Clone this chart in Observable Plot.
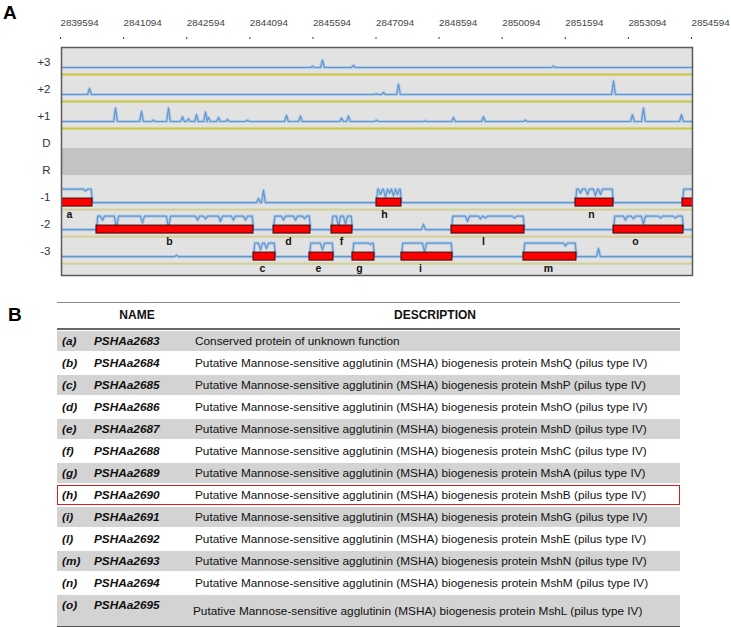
<!DOCTYPE html>
<html><head><meta charset="utf-8">
<script src="https://cdn.jsdelivr.net/npm/d3@7"></script>
<script src="https://cdn.jsdelivr.net/npm/@observablehq/plot@0.6"></script>
<style>
body{margin:0;background:#fff;font-family:"Liberation Sans",Arial,sans-serif;}
#wrap{position:relative;width:731px;height:627px;overflow:hidden;}
.panel{position:absolute;font-weight:bold;font-size:19px;line-height:19px;color:#000;}
#chart{position:absolute;left:0;top:0;}
#tbl{position:absolute;left:57px;top:302px;width:623px;font-size:11.8px;color:#111;}
#hdr{position:relative;height:25px;border-top:1px solid #8a8a8a;border-bottom:2px solid #666;}
#hdr span{position:absolute;top:5px;font-weight:bold;font-size:12px;transform:translateX(-50%);}
.row{position:relative;height:22px;}
.row .bg{position:absolute;left:0;right:0;top:1px;height:20px;}
.row .c{position:absolute;top:1px;line-height:20px;white-space:nowrap;}
.row .id{left:5px;font-weight:bold;font-style:italic;}
.row .nm{left:37px;font-weight:bold;font-style:italic;}
.row .ds{left:138px;}
.row.hl .bg{border:1px solid #e01b1b;box-sizing:border-box;}
.row.tall{height:32px;border-bottom:2px solid #555;}
.row.tall .bg{height:31px;}
.row.tall .ds{top:7px;left:136px;}
</style></head>
<body><div id="wrap">
<div class="panel" style="left:3px;top:3px">A</div>
<div class="panel" style="left:8px;top:305px">B</div>
<div id="chart"></div>
<div id="tbl"></div>
</div>
<script>
// ---------- Panel A data ----------
const frames = ["+3","+2","+1","D","R","-1","-2","-3"];
const tickPositions = [2839594,2841094,2842594,2844094,2845594,2847094,2848594,2850094,2851594,2853094,2854594];
const xStart = 2839594, xEnd = 2854594;

// coverage spikes [position, relative height] on each reading frame
const spikesP3 = [[2845560,0.1],[2845798,0.55],[2846535,0.15],[2851289,0.1]];
const spikesP2 = [[2840260,0.45],[2847082,0.05],[2847248,0.15],[2847605,0.75],[2852716,1.0]];
const spikesP1 = [[2840878,1.0],[2841496,0.75],[2841781,0.1],[2842137,1.0],[2842470,0.35],[2842613,0.2],[2842803,0.5],[2843017,0.7],[2843088,0.3],[2843326,0.3],[2843540,0.15],[2844015,0.1],[2844942,0.45],[2845275,0.4],[2846250,0.25],[2846416,0.4],[2847082,0.1],[2848223,0.05],[2848912,0.3],[2849625,0.35],[2850623,0.1],[2853167,0.5],[2853428,1.0],[2854331,0.5]];
const spikesM1 = [[2844277,0.3],[2844396,0.9]];
const spikesM2 = [[2848199,0.4]];
const spikesM3 = [[2842328,0.1],[2852358,0.6]];

// genes (ORFs)
const geneIds    = ["a","b","c","d","e","f","g","h","i","l","m","n","o",""];
const geneFrame  = ["-1","-2","-3","-2","-3","-2","-3","-1","-3","-2","-3","-1","-2","-1"];
const geneStart  = [2839300,2840426,2844158,2844634,2845489,2846012,2846511,2847082,2847676,2848865,2850576,2851812,2852716,2854356];
const geneEnd    = [2840331,2844158,2844681,2845513,2846060,2846511,2847034,2847676,2848888,2850600,2851836,2852716,2854380,2855300];
const geneLabelAt= [2839784,2842161,2844372,2844990,2845703,2846250,2846677,2847272,2848127,2849625,2851170,2852192,2853238,null];
const geneDips = [
  [[2840164,0.85]],
  [[2840569,0.7],[2840901,0.1],[2841519,0.5],[2842137,0.15],[2842827,0.7],[2843017,0.8],[2843373,0.6],[2843682,0.7],[2843968,0.7]],
  [[2844324,0.5],[2844467,0.6]],
  [[2844871,0.7],[2845156,0.7],[2845370,0.8]],
  [[2845798,0.5]],
  [[2846178,0.2],[2846345,0.4]],
  [[2846939,0.9]],
  [[2847177,0.6],[2847295,0.4],[2847391,0.7],[2847486,0.5],[2847581,0.6]],
  [[2848223,0.35]],
  [[2849245,0.6],[2849554,0.8],[2849672,0.85],[2850362,0.85]],
  [[2851574,0.8]],
  [[2851931,0.7],[2852097,0.6],[2852287,0.5],[2852406,0.6]],
  [[2853000,0.7],[2853190,0.8],[2853428,0.4],[2853832,0.85],[2854189,0.85]],
  []
];

// ---------- Panel B data ----------
const rowIds = ["a","b","c","d","e","f","g","h","i","l","m","n","o"];
const rowNames = ["PSHAa2683","PSHAa2684","PSHAa2685","PSHAa2686","PSHAa2687","PSHAa2688","PSHAa2689","PSHAa2690","PSHAa2691","PSHAa2692","PSHAa2693","PSHAa2694","PSHAa2695"];
const rowProteins = [null,"MshQ","MshP","MshO","MshD","MshC","MshA","MshB","MshG","MshE","MshN","MshM","MshL"];
const highlightedRow = "h";

// ---------- build panel A ----------
const track = f => frames.indexOf(f);
const SPK = 45, RAMP = 30, DIP = 50;
const rowsWithTrace = ["+3","+2","+1","-1","-2","-3"];
const spikeMap = {"+3":spikesP3,"+2":spikesP2,"+1":spikesP1,"-1":spikesM1,"-2":spikesM2,"-3":spikesM3};
const genes = geneIds.map((id,i)=>({id, frame:geneFrame[i], start:geneStart[i], end:geneEnd[i], label:geneLabelAt[i], dips:geneDips[i]}));

const cov = [];
for (const f of rowsWithTrace) {
  const ev = [];
  for (const [x,h] of spikeMap[f]) ev.push({s:x-SPK, pts:[[x-SPK,0],[x,h],[x+SPK,0]]});
  for (const g of genes.filter(g=>g.frame===f)) {
    const pts = [[g.start,0],[g.start+RAMP,1]];
    for (const [d,l] of g.dips) pts.push([d-DIP,1],[d,l],[d+DIP,1]);
    pts.push([g.end-RAMP,1],[g.end,0]);
    ev.push({s:g.start, pts});
  }
  ev.sort((a,b)=>a.s-b.s);
  const pts = [[xStart-2000,0]];
  for (const e of ev) pts.push(...e.pts);
  pts.push([xEnd+2000,0]);
  for (const [x,v] of pts) cov.push({row:f, t:track(f), x, v});
}

const plusRows = ["+3","+2","+1"].map(track);
const minusRows = ["-1","-2","-3"].map(track);
const blue = "#6396cc", halo = "#b2cce8";

const chart = Plot.plot({
  width: 731, height: 290,
  marginLeft: 61, marginRight: 39, marginTop: 47, marginBottom: 15,
  x: {domain: [xStart, xEnd], label: null},
  y: {domain: [-0.74, 7.70], reverse: true, label: null},
  style: {fontFamily: "'Liberation Sans', Arial, sans-serif", background: "transparent", overflow: "visible"},
  marks: [
    Plot.frame({fill: "#e2e2e2"}),
    Plot.rect([{a: track("D"), b: track("R")}], {y1: "a", y2: "b", fill: "#c3c3c3"}),
    Plot.ruleY(plusRows, {stroke: "#c9c43a", strokeWidth: 2.2, dy: 7}),
    Plot.ruleY(minusRows, {stroke: "#d4d09a", strokeWidth: 2.2, dy: 7}),
    Plot.line(cov, {x: "x", y: d => d.t - d.v*0.5, z: "row", stroke: halo, strokeWidth: 3.2, clip: true}),
    Plot.line(cov, {x: "x", y: d => d.t - d.v*0.5, z: "row", stroke: blue, strokeWidth: 1.2, clip: true}),
    Plot.rect(genes, {x1: "start", x2: "end", y1: d => track(d.frame), y2: d => track(d.frame), insetTop: -4, insetBottom: -4, fill: "#ff0000", stroke: "#3a0a0a", strokeWidth: 1, clip: true}),
    Plot.text(genes.filter(g=>g.id), {x: "label", y: d => track(d.frame), text: "id", dy: 12, fontWeight: "bold", fontSize: 10.5, fill: "#111"}),
    Plot.frame({stroke: "#5a5a5a", strokeWidth: 1.5}),
    Plot.axisX({anchor: "top", ticks: tickPositions, tickFormat: d3.format("d"), tickSize: 2, tickPadding: 11, dy: -9, dx: -1, textAnchor: "start", fontSize: 9.8, fill: "#444", stroke: "#444", label: null}),
    Plot.axisY({ticks: frames.map((f,i)=>i), tickFormat: i => frames[i], tickSize: 0, tickPadding: 11, dy: -5, fontSize: 11.5, fill: "#333", label: null})
  ]
});
document.getElementById("chart").appendChild(chart);

// ---------- build panel B ----------
const tbl = document.getElementById("tbl");
let html = '<div id="hdr"><span style="left:80px">NAME</span><span style="left:378px">DESCRIPTION</span></div>';
rowIds.forEach((id,i)=>{
  const desc = rowProteins[i] ? `Putative Mannose-sensitive agglutinin (MSHA) biogenesis protein ${rowProteins[i]} (pilus type IV)` : "Conserved protein of unknown function";
  const cls = ["row"];
  if (id === highlightedRow) cls.push("hl");
  if (i === rowIds.length-1) cls.push("tall");
  const bg = (i % 2 === 0) ? "#d3d3d3" : "#ffffff";
  html += `<div class="${cls.join(" ")}"><div class="bg" style="background:${bg}"></div><span class="c id">(${id})</span><span class="c nm">${rowNames[i]}</span><span class="c ds">${desc}</span></div>`;
});
tbl.innerHTML = html;
</script>
</body></html>
